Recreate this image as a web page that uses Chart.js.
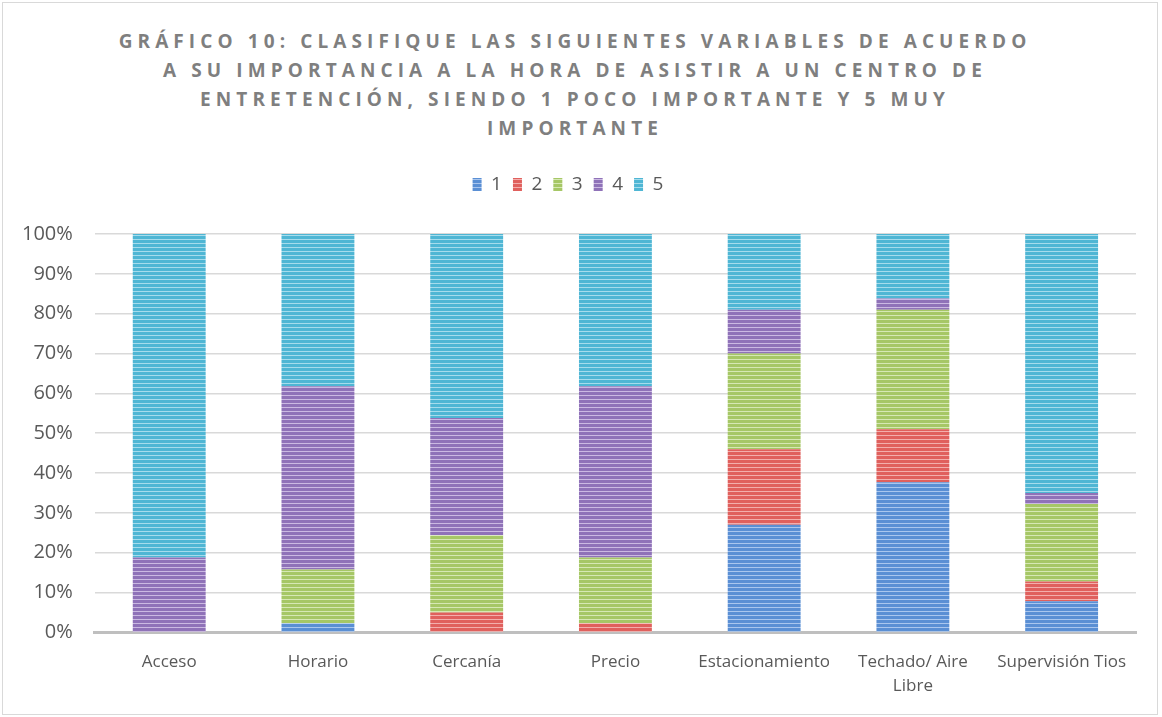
<!DOCTYPE html>
<html>
<head>
<meta charset="utf-8">
<script src="https://cdn.jsdelivr.net/npm/chart.js@4"></script>
<style>
  html, body { margin: 0; padding: 0; background: #fff; }
  #wrap { position: relative; width: 1162px; height: 717px; overflow: hidden; }
  #frame { position: absolute; left: 2px; top: 2px; right: 4px; bottom: 2px; border: 1px solid #d9d9d9; }
  #title {
    position: absolute; left: -6px; top: 27px; width: 1162px; text-align: center;
    font-family: "Open Sans", sans-serif; font-weight: bold; font-size: 19px;
    letter-spacing: 5.1px; line-height: 29px; color: #7f7f7f;
  }
  canvas { position: absolute; left: 0; top: 0; }
</style>
</head>
<body>
<div id="wrap">
  <div id="frame"></div>
  <div id="title">GRÁFICO 10: CLASIFIQUE LAS SIGUIENTES VARIABLES DE ACUERDO<br>A SU IMPORTANCIA A LA HORA DE ASISTIR A UN CENTRO DE<br>ENTRETENCIÓN, SIENDO 1 POCO IMPORTANTE Y 5 MUY<br>IMPORTANTE</div>
  <canvas id="chart" width="1162" height="717"></canvas>
</div>
<script>
// ==================== DATA ====================
const categories = ['Acceso', 'Horario', 'Cercanía', 'Precio', 'Estacionamiento', ['Techado/ Aire', 'Libre'], 'Supervisión Tios'];
const yTicks = [0, 10, 20, 30, 40, 50, 60, 70, 80, 90, 100];

// percentage of answers per rating
const rating1 = [0, 2.3, 0, 0, 27, 37.7, 7.8];
const rating2 = [0, 0, 5, 2.3, 19, 13.3, 5];
const rating3 = [0, 13.5, 19.4, 16.5, 24, 30, 19.4];
const rating4 = [18.8, 46, 29.4, 43, 11, 2.8, 2.8];
const rating5 = [81.2, 38.2, 46.2, 38.2, 19, 16.2, 65];

// ==================== STRIPED FILLS ====================
function stripes(base, light) {
    const c = document.createElement('canvas');
    c.width = 4; c.height = 4;
    const g = c.getContext('2d');
    g.fillStyle = base;
    g.fillRect(0, 0, 4, 4);
    g.fillStyle = light;
    g.fillRect(0, 3, 4, 1);
    return g.createPattern(c, 'repeat');
}

const fills = [
    stripes('#5a8fd4', '#a9c6ee'),
    stripes('#e0605d', '#f3aeac'),
    stripes('#a6c766', '#d6e8b4'),
    stripes('#8f72b8', '#cbb9e2'),
    stripes('#4fb6d4', '#a6dcec')
];

const series = [rating1, rating2, rating3, rating4, rating5];

// extra room between legend and plot
const legendGap = {
    id: 'legendGap',
    beforeInit(chart) {
        const fit = chart.legend.fit;
        chart.legend.fit = function () {
            fit.bind(chart.legend)();
            this.height += 30;
        };
    }
};

const ctx = document.getElementById('chart').getContext('2d');
new Chart(ctx, {
    type: 'bar',
    data: {
        labels: categories,
        datasets: series.map((vals, i) => ({
            label: String(i + 1),
            data: vals,
            backgroundColor: fills[i],
            borderWidth: 0,
            categoryPercentage: 1,
            barPercentage: 0.49
        }))
    },
    options: {
        responsive: false,
        animation: false,
        devicePixelRatio: 1,
        layout: { padding: { top: 164, left: 0, right: 26, bottom: 1 } },
        plugins: {
            title: { display: false },
            tooltip: { enabled: false },
            legend: {
                position: 'top',
                labels: {
                    boxWidth: 9, boxHeight: 13,
                    padding: 11,
                    color: '#595959',
                    font: { family: 'Open Sans', size: 19 }
                }
            }
        },
        scales: {
            x: {
                stacked: true,
                grid: { display: false, drawTicks: false },
                border: { color: '#bfbfbf', width: 3 },
                ticks: {
                    color: '#595959', padding: 18,
                    maxRotation: 0, autoSkip: false,
                    font: { family: 'Open Sans', size: 17, lineHeight: 1.4 }
                }
            },
            y: {
                stacked: true,
                min: 0, max: 100,
                afterBuildTicks: axis => { axis.ticks = yTicks.map(v => ({ value: v })); },
                grid: { color: '#d9d9d9', lineWidth: 1.5, drawTicks: false },
                border: { display: false },
                ticks: {
                    color: '#595959', padding: 22,
                    font: { family: 'Open Sans', size: 20 },
                    callback: v => v + '%'
                }
            }
        }
    },
    plugins: [legendGap]
});
</script>
</body>
</html>
